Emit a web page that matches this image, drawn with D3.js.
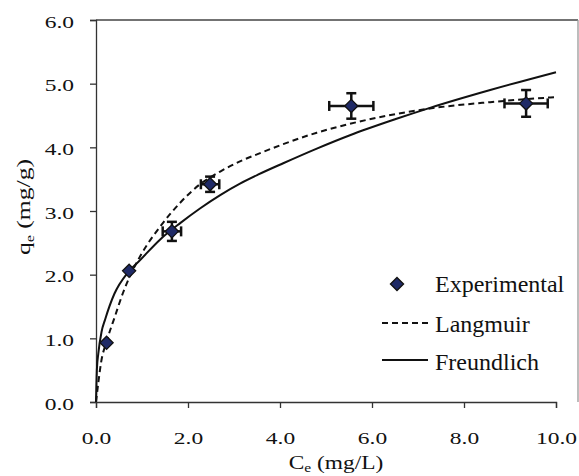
<!DOCTYPE html>
<html>
<head>
<meta charset="UTF-8">
<script src="https://d3js.org/d3.v7.min.js"></script>
<style>
  body { margin: 0; background: #fff; }
  text { font-family: 'Liberation Serif', 'Times New Roman', serif; fill: #111; }
</style>
</head>
<body>
<svg id="chart" width="579" height="476"></svg>
<script>
// experimental points (Ce in mg/L, qe in mg/g) with error bars
var ceExp = [0.23, 0.72, 1.65, 2.48, 5.55, 9.35];
var qeExp = [0.93, 2.06, 2.68, 3.42, 4.65, 4.69];
var ceErr = [0, 0, 0.2, 0.2, 0.48, 0.47];
var qeErr = [0, 0, 0.15, 0.12, 0.2, 0.21];

// fitted curves
var langC = [0, 0.05, 0.11, 0.23, 0.41, 0.59, 0.78, 1.0, 1.4, 1.83, 2.26, 2.7, 3.13, 3.5, 4.07, 4.8, 5.52, 6.5, 7.26, 8.57, 10];
var langQ = [0, 0.3, 0.62, 0.95, 1.34, 1.72, 2.04, 2.34, 2.76, 3.13, 3.42, 3.62, 3.78, 3.89, 4.05, 4.23, 4.37, 4.52, 4.61, 4.71, 4.79];
var freuC = [0, 0.02, 0.05, 0.12, 0.2, 0.4, 0.7, 0.96, 1.39, 1.83, 2.26, 2.7, 3.13, 3.52, 4.07, 4.8, 5.52, 6.5, 7.26, 8.57, 10];
var freuQ = [0, 0.52, 0.76, 1.1, 1.3, 1.7, 2.04, 2.23, 2.55, 2.81, 3.04, 3.25, 3.43, 3.57, 3.75, 3.98, 4.19, 4.44, 4.62, 4.9, 5.18];

var xTicks = [0, 2, 4, 6, 8, 10];
var yTicks = [0, 1, 2, 3, 4, 5, 6];
var legendLabels = ["Experimental", "Langmuir", "Freundlich"];

var svg = d3.select("#chart");
var x = d3.scaleLinear().domain([0, 10]).range([96, 556]);
var y = d3.scaleLinear().domain([0, 6]).range([402, 20]);
var stretch = 1.38;

// plot frame (top and right)
svg.append("line").attr("x1", 96).attr("x2", 578).attr("y1", 20).attr("y2", 20)
  .attr("stroke", "#444").attr("stroke-width", 1.3);
svg.append("line").attr("x1", 578).attr("x2", 578).attr("y1", 20).attr("y2", 402)
  .attr("stroke", "#999").attr("stroke-width", 1.3);

// axes
var xAxis = svg.append("g").attr("transform", "translate(0,402)")
  .call(d3.axisBottom(x).tickValues(xTicks).tickSize(6).tickFormat(""));
var yAxis = svg.append("g").attr("transform", "translate(96,0)")
  .call(d3.axisLeft(y).tickValues(yTicks).tickSize(6).tickFormat(""));
svg.selectAll(".domain, .tick line").attr("stroke", "#333").attr("stroke-width", 1.3);

xAxis.selectAll(".tick").append("text")
  .attr("text-anchor", "middle")
  .attr("font-size", 17)
  .attr("transform", "translate(0,42) scale(" + stretch + ",1)")
  .text(function (d) { return d3.format(".1f")(d); });
yAxis.selectAll(".tick").append("text")
  .attr("text-anchor", "end")
  .attr("font-size", 17)
  .attr("transform", "translate(-22,7) scale(" + stretch + ",1)")
  .text(function (d) { return d3.format(".1f")(d); });

// axis titles
var xt = svg.append("text").attr("text-anchor", "middle").attr("font-size", 18)
  .attr("transform", "translate(336,469) scale(1.3,1)");
xt.append("tspan").text("C");
xt.append("tspan").attr("font-size", 12).attr("dy", 3).text("e");
xt.append("tspan").attr("dy", -3).text(" (mg/L)");

var yt = svg.append("text").attr("text-anchor", "middle").attr("font-size", 19)
  .attr("transform", "translate(30,207) rotate(-90) scale(1.35,1)");
yt.append("tspan").text("q");
yt.append("tspan").attr("font-size", 12).attr("dy", 4).text("e");
yt.append("tspan").attr("dy", -4).text(" (mg/g)");

// curves
var line = d3.line()
  .x(function (d) { return x(d[0]); })
  .y(function (d) { return y(d[1]); })
  .curve(d3.curveMonotoneX);

svg.append("path").datum(d3.zip(langC, langQ))
  .attr("d", line).attr("fill", "none").attr("stroke", "#111")
  .attr("stroke-width", 2).attr("stroke-dasharray", "6,4");
svg.append("path").datum(d3.zip(freuC, freuQ))
  .attr("d", line).attr("fill", "none").attr("stroke", "#111")
  .attr("stroke-width", 2);

// error bars
var pts = ceExp.map(function (c, i) {
  return { c: c, q: qeExp[i], ec: ceErr[i], eq: qeErr[i] };
});
var bars = svg.append("g").attr("stroke", "#111").attr("stroke-width", 2.5);
pts.filter(function (d) { return d.ec > 0; }).forEach(function (d) {
  var cx = x(d.c), cy = y(d.q);
  var x0 = x(d.c - d.ec), x1 = x(d.c + d.ec);
  var y0 = y(d.q + d.eq), y1 = y(d.q - d.eq);
  bars.append("line").attr("x1", x0).attr("x2", x1).attr("y1", cy).attr("y2", cy);
  bars.append("line").attr("x1", x0).attr("x2", x0).attr("y1", cy - 5).attr("y2", cy + 5);
  bars.append("line").attr("x1", x1).attr("x2", x1).attr("y1", cy - 5).attr("y2", cy + 5);
  bars.append("line").attr("x1", cx).attr("x2", cx).attr("y1", y0).attr("y2", y1);
  bars.append("line").attr("x1", cx - 5).attr("x2", cx + 5).attr("y1", y0).attr("y2", y0);
  bars.append("line").attr("x1", cx - 5).attr("x2", cx + 5).attr("y1", y1).attr("y2", y1);
});

// markers
var diamond = d3.symbol().type(d3.symbolDiamond2).size(110);
svg.selectAll(".pt").data(pts).enter().append("path")
  .attr("class", "pt")
  .attr("d", diamond)
  .attr("transform", function (d) { return "translate(" + x(d.c) + "," + y(d.q) + ")"; })
  .attr("fill", "#1f2a66").attr("stroke", "#111").attr("stroke-width", 1.3);

// legend
var lg = svg.append("g");
lg.append("path").attr("d", diamond).attr("transform", "translate(397,284)")
  .attr("fill", "#1f2a66").attr("stroke", "#111").attr("stroke-width", 1.3);
lg.append("line").attr("x1", 382).attr("x2", 430).attr("y1", 323).attr("y2", 323)
  .attr("stroke", "#111").attr("stroke-width", 2).attr("stroke-dasharray", "6,4");
lg.append("line").attr("x1", 382).attr("x2", 428).attr("y1", 360).attr("y2", 360)
  .attr("stroke", "#111").attr("stroke-width", 2);
lg.selectAll(".lt").data(legendLabels).enter().append("text")
  .attr("class", "lt")
  .attr("x", 435)
  .attr("y", function (d, i) { return [292, 332, 370][i]; })
  .attr("font-size", 24)
  .text(function (d) { return d; });
</script>
</body>
</html>
